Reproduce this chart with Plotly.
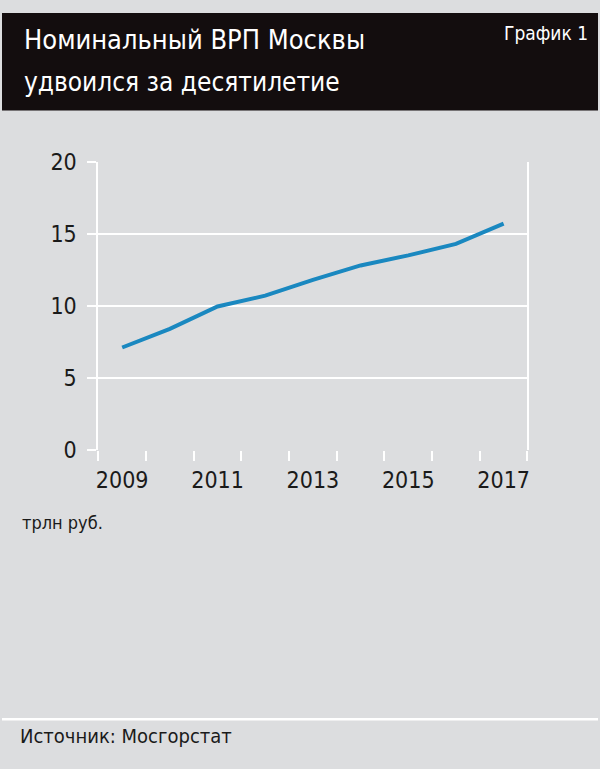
import plotly.graph_objects as go

years = [2009, 2010, 2011, 2012, 2013, 2014, 2015, 2016, 2017]
grp = [7.1, 8.4, 9.95, 10.7, 11.8, 12.8, 13.5, 14.3, 15.7]
y_ticks = [0, 5, 10, 15, 20]
x_label_years = [2009, 2011, 2013, 2015, 2017]

title_line1 = "Номинальный ВРП Москвы"
title_line2 = "удвоился за десятилетие"
chart_no = "График 1"
unit_text = "трлн руб."
source_text = "Источник: Мосгорстат"

FONT = "DejaVu Sans Condensed, Liberation Sans Narrow, sans-serif"
BG = "#dcdddf"
W, H = 600, 769

def py(px):
    return 1 - px / H

x_lo, x_hi = years[0] - 0.5, years[-1] + 0.5
boundaries = [x_lo + i for i in range(len(years) + 1)]

fig = go.Figure()
fig.add_trace(go.Scatter(
    x=years, y=grp, mode="lines",
    line=dict(color="#1a88c0", width=4),
    hoverinfo="skip", showlegend=False,
))
fig.add_trace(go.Scatter(x=years, y=grp, xaxis="x2", mode="lines",
                         line=dict(width=0, color="rgba(0,0,0,0)"),
                         hoverinfo="skip", showlegend=False))

xdom = [97 / W, 529 / W]
ydom = [py(452), py(154)]

fig.update_layout(
    width=W, height=H, autosize=False,
    margin=dict(l=0, r=0, t=0, b=0),
    paper_bgcolor=BG, plot_bgcolor=BG,
    font=dict(family=FONT, color="#1a1a1a"),
    xaxis=dict(
        domain=xdom, range=[x_lo, x_hi],
        tickmode="array", tickvals=boundaries,
        ticks="outside", ticklen=10, tickwidth=2, tickcolor="white",
        showticklabels=False, showgrid=False, zeroline=False,
        showline=False, fixedrange=True,
    ),
    xaxis2=dict(
        domain=xdom, range=[x_lo, x_hi], overlaying="x", anchor="y",
        tickmode="array", tickvals=x_label_years,
        ticktext=[str(v) for v in x_label_years],
        ticks="outside", ticklen=10, tickcolor="rgba(0,0,0,0)",
        tickfont=dict(size=23, family=FONT, color="#1a1a1a"),
        showgrid=False, zeroline=False, showline=False, side="bottom",
        fixedrange=True,
    ),
    yaxis=dict(
        domain=ydom, range=[0, 20],
        tickmode="array", tickvals=y_ticks,
        ticks="outside", ticklen=9, tickwidth=2, tickcolor="white",
        tickfont=dict(size=23, family=FONT, color="#1a1a1a"),
        ticklabelstandoff=6,
        showgrid=True, gridcolor="white", gridwidth=2,
        showline=True, linecolor="white", linewidth=2, mirror=True,
        zeroline=False, fixedrange=True,
    ),
    shapes=[
        dict(type="rect", xref="paper", yref="paper", x0=0, x1=1,
             y0=py(101), y1=1, fillcolor="#130d0e", line=dict(width=0),
             layer="below"),
        dict(type="line", xref="paper", yref="paper", x0=0, x1=1,
             y0=py(731), y1=py(731), line=dict(color="white", width=2.5)),
    ],
    annotations=[
        dict(text=title_line1, xref="paper", yref="paper", x=20 / W, y=py(27.5),
             xanchor="left", yanchor="middle", showarrow=False,
             font=dict(size=27, color="white", family=FONT)),
        dict(text=title_line2, xref="paper", yref="paper", x=20 / W, y=py(71.5),
             xanchor="left", yanchor="middle", showarrow=False,
             font=dict(size=26, color="white", family=FONT)),
        dict(text=chart_no, xref="paper", yref="paper", x=592 / W, y=py(21),
             xanchor="right", yanchor="middle", showarrow=False,
             font=dict(size=19, color="white", family=FONT)),
        dict(text=unit_text, xref="paper", yref="paper", x=18 / W, y=py(527),
             xanchor="left", yanchor="middle", showarrow=False,
             font=dict(size=18, color="#1a1a1a", family=FONT)),
        dict(text=source_text, xref="paper", yref="paper", x=16 / W, y=py(748),
             xanchor="left", yanchor="middle", showarrow=False,
             font=dict(size=20, color="#1a1a1a", family=FONT)),
    ],
)

fig.write_html(
    "out.html",
    config={"displayModeBar": False, "responsive": False},
    post_script=(
        "document.documentElement.style.margin='0';"
        "document.documentElement.style.background='#dcdddf';"
        "document.body.style.background='#dcdddf';"
        "document.body.style.margin='0';document.body.style.padding='0';"
        "var gd=document.getElementById('{plot_id}');"
        "gd.style.position='absolute';gd.style.top='0px';gd.style.left='0px';"
    ),
)
